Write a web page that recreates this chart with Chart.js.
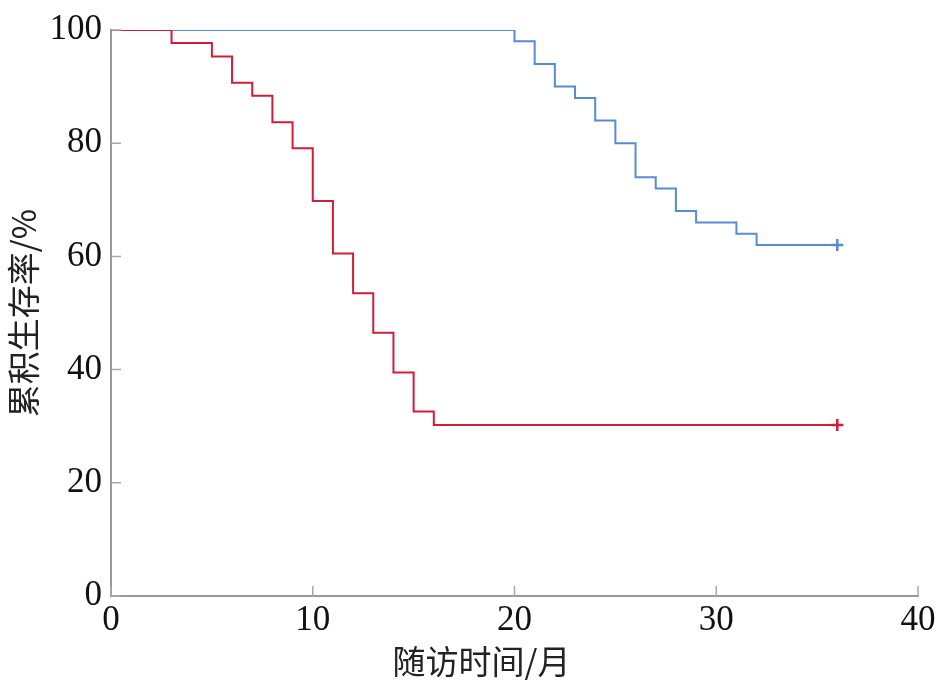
<!DOCTYPE html>
<html>
<head>
<meta charset="utf-8">
<script src="https://cdn.jsdelivr.net/npm/chart.js@4"></script>
<style>
    html, body { margin: 0; padding: 0; background: #fff; }
    #wrap { width: 950px; height: 688px; }
</style>
</head>
<body>
<div id="wrap"><canvas id="myChart"></canvas></div>
<script>
// данные кривых выживаемости
const redTimes = [0, 3, 5, 6, 7, 8, 9, 10, 11, 12, 13, 14, 15, 16, 36];
const redSurv = [100, 97.7, 95.3, 90.7, 88.4, 83.7, 79.1, 69.8, 60.5, 53.5, 46.5, 39.5, 32.6, 30.2, 30.2];
const blueTimes = [0, 20, 21, 22, 23, 24, 25, 26, 27, 28, 29, 31, 32, 36];
const blueSurv = [100, 98, 94, 90, 88, 84, 80, 74, 72, 68, 66, 64, 62, 62];
const xTicks = [0, 10, 20, 30, 40];
const yTicks = [0, 20, 40, 60, 80, 100];
const xTitle = '随访时间/月';
const yTitle = '累积生存率/%';

const toPoints = (xs, ys) => xs.map((x, i) => ({ x: x, y: ys[i] }));

// метка "+" только на последней точке
const lastOnly = (n, r) => (ctx) => ctx.dataIndex === n - 1 ? r : 0;

// тики внутрь области графика
const innerTicks = {
    id: 'innerTicks',
    afterDatasetsDraw(chart) {
        const c = chart.ctx;
        const xs = chart.scales.x, ys = chart.scales.y;
        c.save();
        c.strokeStyle = '#a8a8a8';
        c.lineWidth = 1.5;
        c.beginPath();
        xTicks.forEach(v => {
            const px = xs.getPixelForValue(v);
            c.moveTo(px, ys.bottom);
            c.lineTo(px, ys.bottom - 10);
        });
        yTicks.forEach(v => {
            const py = ys.getPixelForValue(v);
            c.moveTo(xs.left, py);
            c.lineTo(xs.left + 10, py);
        });
        c.stroke();
        c.restore();
    }
};

const tickFont = { family: '"Liberation Serif", "Times New Roman", serif', size: 35 };
const titleFont = { family: '"Noto Sans CJK SC", sans-serif', size: 33 };

const ctx = document.getElementById('myChart').getContext('2d');

const myChart = new Chart(ctx, {
    type: 'line',
    data: {
        datasets: [{
            label: 'red',
            data: toPoints(redTimes, redSurv),
            stepped: true,
            borderColor: 'rgb(210, 28, 58)',
            backgroundColor: 'rgb(210, 28, 58)',
            borderWidth: 2,
            fill: false,
            pointStyle: 'cross',
            pointRadius: lastOnly(redTimes.length, 6),
            pointBorderWidth: 2.5,
            pointHoverRadius: 0
        }, {
            label: 'blue',
            data: toPoints(blueTimes, blueSurv),
            stepped: true,
            borderColor: 'rgb(88, 140, 210)',
            backgroundColor: 'rgb(88, 140, 210)',
            borderWidth: 2,
            fill: false,
            pointStyle: 'cross',
            pointRadius: lastOnly(blueTimes.length, 6),
            pointBorderWidth: 2.5,
            pointHoverRadius: 0
        }]
    },
    options: {
        responsive: true,
        maintainAspectRatio: false,
        animation: false,
        layout: {
            padding: { top: 30, right: 32, bottom: 0, left: 0 }
        },
        plugins: {
            legend: { display: false },
            tooltip: { enabled: false }
        },
        scales: {
            x: {
                type: 'linear',
                min: 0,
                max: 40,
                afterFit(scale) { scale.height = 92; },
                afterBuildTicks(scale) { scale.ticks = xTicks.map(v => ({ value: v })); },
                grid: { display: true, drawOnChartArea: false, drawTicks: false },
                border: { display: true, color: '#999999', width: 2 },
                ticks: {
                    color: '#111',
                    font: tickFont,
                    padding: 4,
                    maxRotation: 0
                },
                title: {
                    display: true,
                    text: xTitle + '\u3000\u3000',
                    color: '#222',
                    font: titleFont,
                    padding: { top: 0, bottom: 7 }
                }
            },
            y: {
                type: 'linear',
                min: 0,
                max: 100,
                afterFit(scale) { scale.width = 111; },
                afterBuildTicks(scale) { scale.ticks = yTicks.map(v => ({ value: v })); },
                grid: { display: true, drawOnChartArea: false, drawTicks: false },
                border: { display: true, color: '#999999', width: 2 },
                ticks: {
                    color: '#111',
                    font: tickFont,
                    padding: 9
                },
                title: {
                    display: true,
                    text: yTitle,
                    color: '#222',
                    font: titleFont,
                    padding: { top: 4, bottom: 0 }
                }
            }
        }
    },
    plugins: [innerTicks]
});
</script>
</body>
</html>
